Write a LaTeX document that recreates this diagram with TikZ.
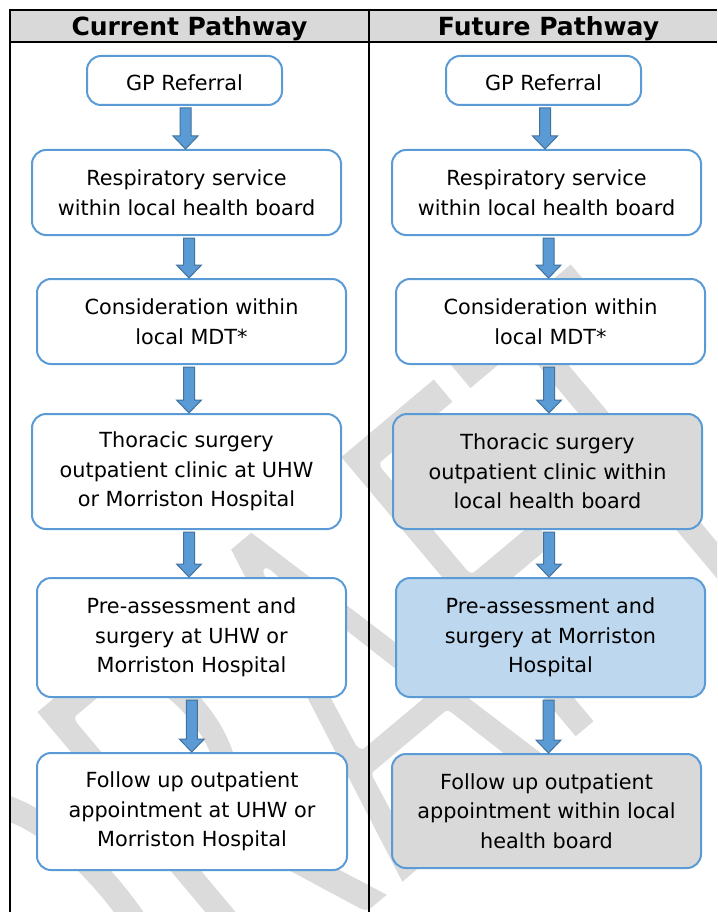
\documentclass[tikz,border=0pt]{standalone}
\usepackage{fontspec}
\setmainfont{DejaVu Sans}
\newfontfamily\wmfont{Carlito}
\usetikzlibrary{calc}

\definecolor{boxblue}{RGB}{91,155,213}
\definecolor{arrowedge}{RGB}{65,113,156}
\definecolor{cellgray}{RGB}{217,217,217}
\definecolor{lightblue}{RGB}{189,215,238}
\definecolor{wmgray}{RGB}{219,219,219}

% thin the watermark glyphs: fill in grey, then stroke their outlines in white
\makeatletter
\newcommand\wmthinon{\pgfsys@invoke{2 Tr 8 w 1 j 1 1 1 RG}}
\newcommand\wmthinoff{\pgfsys@invoke{0 Tr 0.4 w 0 j 0 0 0 RG}}
\makeatother

\tikzset{
  stepbox/.style={draw=boxblue, line width=2pt, rounded corners=14pt, fill=white,
    align=center, inner sep=0pt, text=black,
    font=\fontsize{20.8}{29.5}\selectfont,
    execute at begin node={\rule{0pt}{20pt}}},
  grayfill/.style={fill=cellgray},
  bluefill/.style={fill=lightblue},
  headtext/.style={font=\bfseries\fontsize{25}{30}\selectfont, inner sep=0pt, anchor=base},
  rule/.style={line width=2pt, black},
  flow/.style={fill=boxblue, draw=arrowedge, line width=1pt, line join=miter},
}

% block arrow from the bottom of one box to the top of the next
\newcommand\flowarrow[2]{%
  \filldraw[flow] let \p1=(#1.south), \p2=(#2.north),
    \p3=($(#1.south)!0.5!(#2.north)$) in
    (\x3-5.5pt,\y1-2pt) -- (\x3+5.5pt,\y1-2pt) -- (\x3+5.5pt,\y2+13pt)
    -- (\x3+12.5pt,\y2+13pt) -- (\x3,\y2) -- (\x3-12.5pt,\y2+13pt)
    -- (\x3-5.5pt,\y2+13pt) -- cycle;}

\begin{document}
\begin{tikzpicture}[x=1pt,y=-1pt]
  \useasboundingbox (0,0) rectangle (717,912);

  % watermark, stretched lettering
  \begin{scope}
    \clip (10,42) rectangle (717,912);
    \node[text=wmgray, rotate=40, yscale=1.66, anchor=base west, inner sep=0pt,
      font=\wmfont\fontsize{355}{355}\selectfont] (wm) at (86,1156)
      {\wmthinon DRAFT\wmthinoff};
  \end{scope}

  % table frame
  \fill[cellgray] (10,10) rectangle (717,42);
  \draw[rule] (10,10) -- (717,10);
  \draw[rule] (10,42) -- (717,42);
  \draw[rule] (10,9) -- (10,912);
  \draw[rule] (369,9) -- (369,912);
  \node[headtext] (hcur) at (189.5,36) {Current Pathway};
  \node[headtext] (hfut) at (548.5,36) {Future Pathway};

  % current pathway
  \node[stepbox, minimum width=195pt, minimum height=49pt] (L1) at (184.5,80.5) {GP Referral};
  \node[stepbox, minimum width=309pt, minimum height=85pt] (L2) at (186.5,192.5)
    {Respiratory service\\within local health board};
  \node[stepbox, minimum width=309pt, minimum height=85pt] (L3) at (191.5,321.5)
    {Consideration within\\local MDT*};
  \node[stepbox, minimum width=309pt, minimum height=115pt] (L4) at (186.5,471.5)
    {Thoracic surgery\\outpatient clinic at UHW\\or Morriston Hospital};
  \node[stepbox, minimum width=309pt, minimum height=119pt] (L5) at (191.5,637.5)
    {Pre-assessment and\\surgery at UHW or\\Morriston Hospital};
  \node[stepbox, minimum width=310pt, minimum height=117pt] (L6) at (192,811.5)
    {Follow up outpatient\\appointment at UHW or\\Morriston Hospital};

  % future pathway
  \node[stepbox, minimum width=195pt, minimum height=49pt] (R1) at (543.5,80.5) {GP Referral};
  \node[stepbox, minimum width=309pt, minimum height=85pt] (R2) at (546.5,192.5)
    {Respiratory service\\within local health board};
  \node[stepbox, minimum width=309pt, minimum height=85pt] (R3) at (550.5,321.5)
    {Consideration within\\local MDT*};
  \node[stepbox, grayfill, minimum width=309pt, minimum height=115pt] (R4) at (547.5,471.5)
    {Thoracic surgery\\outpatient clinic within\\local health board};
  \node[stepbox, bluefill, minimum width=309pt, minimum height=119pt] (R5) at (550.5,637.5)
    {Pre-assessment and\\surgery at Morriston\\Hospital};
  \node[stepbox, grayfill, minimum width=309pt, minimum height=114pt] (R6) at (546.5,811)
    {Follow up outpatient\\appointment within local\\health board};

  \flowarrow{L1}{L2}
  \flowarrow{L2}{L3}
  \flowarrow{L3}{L4}
  \flowarrow{L4}{L5}
  \flowarrow{L5}{L6}
  \flowarrow{R1}{R2}
  \flowarrow{R2}{R3}
  \flowarrow{R3}{R4}
  \flowarrow{R4}{R5}
  \flowarrow{R5}{R6}
\end{tikzpicture}
\end{document}
